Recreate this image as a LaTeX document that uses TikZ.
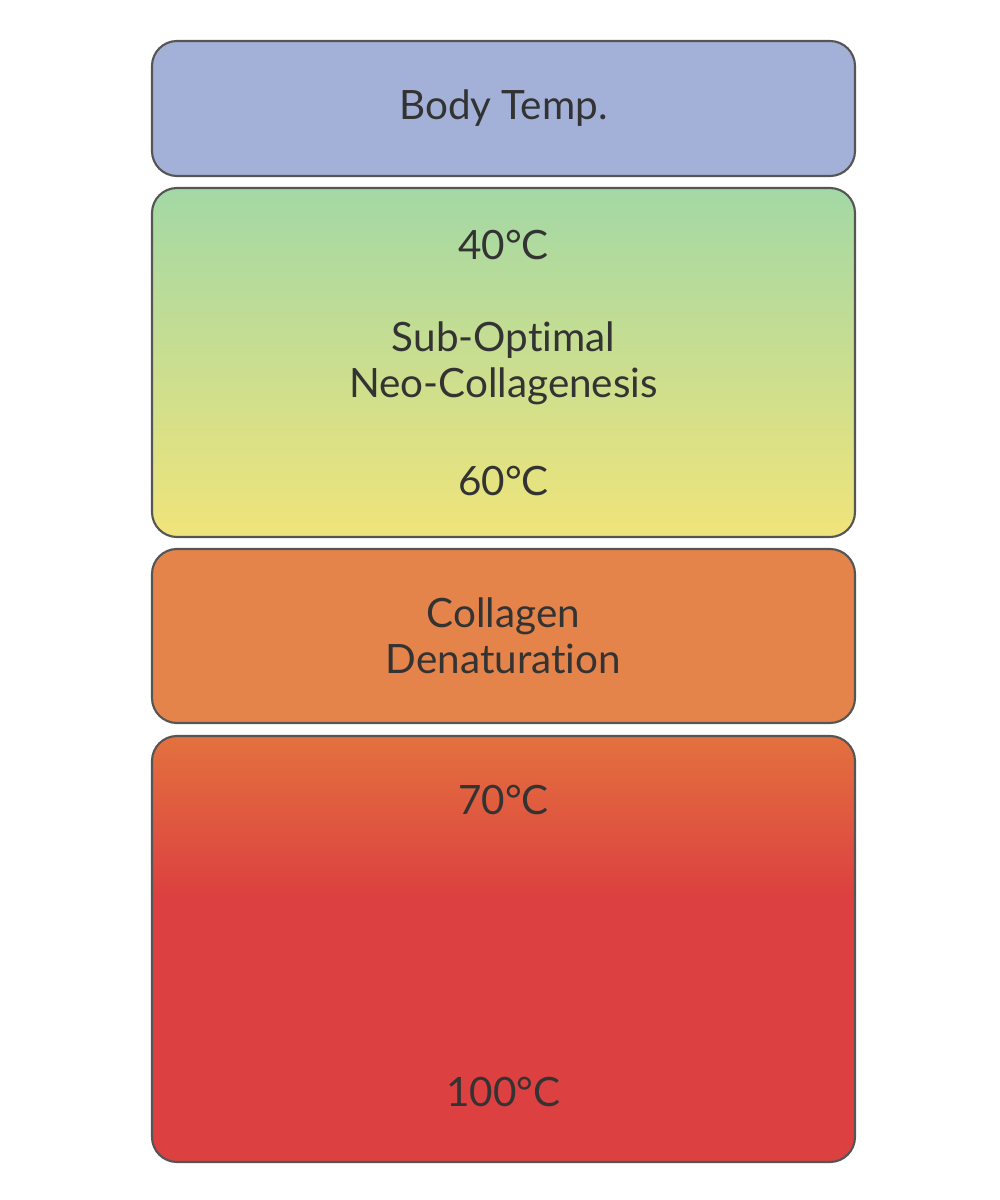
\documentclass[tikz,border=0pt]{standalone}
\usepackage{fontspec}
\setmainfont{Lato}[Ligatures={NoCommon,NoRare}]
\usepackage{tikz}
\usetikzlibrary{positioning,calc}
\definecolor{BodyBlue}{HTML}{A3B1D8}
\definecolor{SubGreen}{HTML}{A3D8A5}
\definecolor{SubYellow}{HTML}{F0E47A}
\definecolor{DenOrange}{HTML}{E5844A}
\definecolor{HotTop}{HTML}{E3713F}
\definecolor{HotRed}{HTML}{DC4040}
\definecolor{EdgeGray}{HTML}{555555}
\definecolor{TextGray}{HTML}{333333}
\pgfdeclareverticalshading{hotfade}{100bp}{color(0bp)=(HotRed); color(56bp)=(HotRed); color(75bp)=(HotTop); color(100bp)=(HotTop)}
\tikzset{band/.style={draw=EdgeGray,line width=0.6pt,rounded corners=0.25cm,minimum width=7.03cm,inner sep=0pt,outer sep=0pt},
  lbl/.style={font=\fontsize{11.5}{13}\selectfont,text=TextGray,align=center}}
\begin{document}
\begin{tikzpicture}
\useasboundingbox (0,0) rectangle (10,12);
\coordinate (cb) at (5.035,10.915);
\coordinate (cs) at (5.035,8.375);
\coordinate (cd) at (5.035,5.64);
\coordinate (ch) at (5.035,2.51);
\node[band,fill=BodyBlue,minimum height=1.35cm] (body) at (cb) {};
\node[band,top color=SubGreen,bottom color=SubYellow,minimum height=3.49cm] (sub) at (cs) {};
\node[band,fill=DenOrange,minimum height=1.74cm] (den) at (cd) {};
\node[band,shading=hotfade,minimum height=4.26cm] (hot) at (ch) {};
\node[lbl] (tbody) at (body) {Body Temp.};
\node[lbl] (t40) at (5.035,9.55) {40°C};
\node[lbl] (tsub) at (5.035,8.37) {Sub-Optimal\\Neo-Collagenesis};
\node[lbl] (t60) at (5.035,7.19) {60°C};
\node[lbl] (tden) at (den) {Collagen\\Denaturation};
\node[lbl] (t70) at (5.035,4.0) {70°C};
\node[lbl] (t100) at (5.035,1.08) {100°C};
\end{tikzpicture}
\end{document}
